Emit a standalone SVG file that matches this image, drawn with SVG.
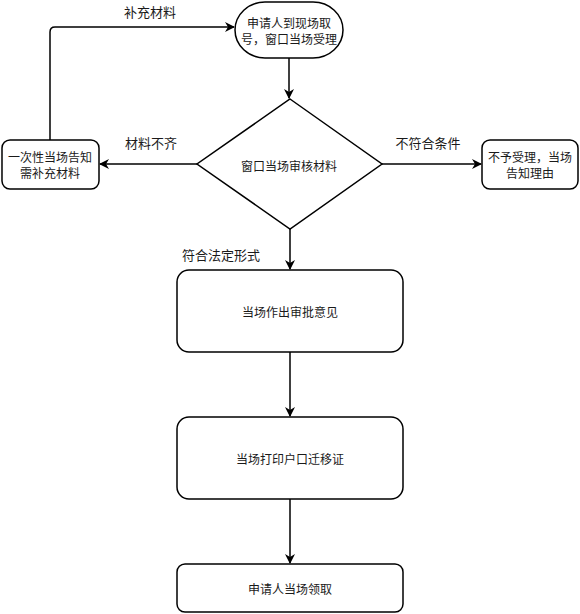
<svg xmlns="http://www.w3.org/2000/svg" width="580" height="614" viewBox="0 0 580 614">
<style>
.n{fill:#fff;stroke:#000;stroke-width:1.5}
.c{fill:none;stroke:#000;stroke-width:1.5}
text{font-family:"Noto Sans CJK SC","Noto Sans",sans-serif;font-size:12px;fill:#1a1a1a;text-anchor:middle;dominant-baseline:central}
.l{font-size:13px}
</style>
<defs>
<marker id="a" viewBox="0 0 10 10" refX="9" refY="5" markerWidth="10" markerHeight="10" markerUnits="userSpaceOnUse" orient="auto">
<path d="M0,0 L10,5 L0,10 L3,5 Z" fill="#000"/>
</marker>
</defs>
<rect width="580" height="614" fill="#fff"/>
<g id="connectors">
<path class="c" d="M289,58 V98" marker-end="url(#a)"/>
<path class="c" d="M197,164 H100" marker-end="url(#a)"/>
<path class="c" d="M382,164 H481" marker-end="url(#a)"/>
<path class="c" d="M50,140 V32 Q50,27 55,27 H234" marker-end="url(#a)"/>
<path class="c" d="M290,229 V269" marker-end="url(#a)"/>
<path class="c" d="M290,352 V416" marker-end="url(#a)"/>
<path class="c" d="M290,499 V563" marker-end="url(#a)"/>
<text class="l" x="150" y="11">补充材料</text>
<text class="l" x="151" y="142">材料不齐</text>
<text class="l" x="428" y="142">不符合条件</text>
<text class="l" x="221" y="254">符合法定形式</text>
</g>
<g id="start">
<rect class="n" x="235" y="2" width="108" height="56" rx="30" ry="28"/>
<text x="289" y="22">申请人到现场取</text>
<text x="289" y="38">号，窗口当场受理</text>
</g>
<g id="review">
<path class="n" d="M290,99 L382,164 L290,229 L197,164 Z"/>
<text x="289" y="165">窗口当场审核材料</text>
</g>
<g id="incomplete">
<rect class="n" x="2" y="140" width="97" height="49" rx="8"/>
<text x="50" y="156">一次性当场告知</text>
<text x="50" y="172">需补充材料</text>
</g>
<g id="reject">
<rect class="n" x="482" y="140" width="96" height="49" rx="8"/>
<text x="530" y="156">不予受理，当场</text>
<text x="530" y="172">告知理由</text>
</g>
<g id="approve">
<rect class="n" x="177" y="270" width="226" height="82" rx="12"/>
<text x="290" y="311">当场作出审批意见</text>
</g>
<g id="print">
<rect class="n" x="177" y="417" width="226" height="82" rx="12"/>
<text x="290" y="458">当场打印户口迁移证</text>
</g>
<g id="receive">
<rect class="n" x="177" y="564" width="226" height="48" rx="8"/>
<text x="290" y="588">申请人当场领取</text>
</g>
</svg>
